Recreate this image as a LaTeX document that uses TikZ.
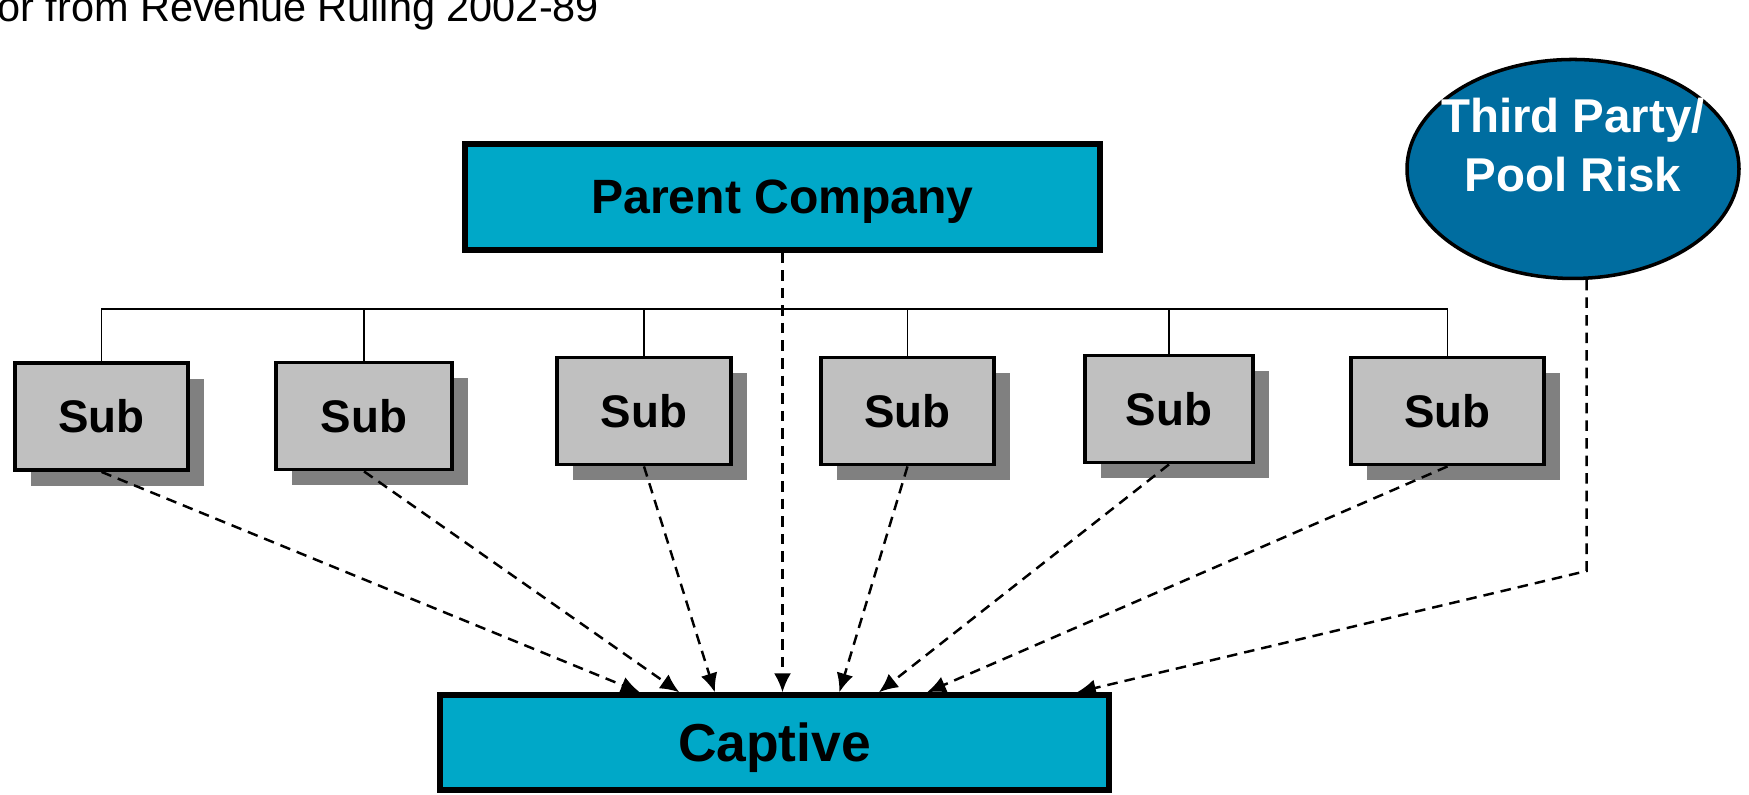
\documentclass[tikz,border=0pt]{standalone}
\usepackage{fontspec}
\setmainfont{Liberation Sans}
\usepackage{tikz}
\usetikzlibrary{shapes.geometric}
\usetikzlibrary{shadows}
\usetikzlibrary{arrows.meta}
\usepackage{color}
\definecolor{Teal-1}{RGB}{0,168,200}
\definecolor{Blue-1}{RGB}{0,109,160}
\definecolor{Grey-1}{RGB}{192,192,192}
\definecolor{Grey-2}{RGB}{128,128,128}

\begin{document}
\begin{tikzpicture}[
    corp/.style={draw=black, line width=1.5pt, fill=Teal-1, rounded corners=0pt, text=black, text depth=0pt},
    sub/.style={draw=black, line width=1.1pt, fill=Grey-1, minimum height=1.07cm, text=black,
      font=\fontsize{13}{15}\selectfont\bfseries,
      general shadow={fill=Grey-2, shadow xshift=0.16cm, shadow yshift=-0.16cm}},
    flow/.style={draw=black, line width=0.7pt, dash pattern=on 3pt off 2pt, -{Latex[length=0.19cm,width=0.17cm]}},
    tie/.style={draw=black, line width=0.45pt}]
  \useasboundingbox (0,0) rectangle (17.49,7.95);

  \node[anchor=base west, font=\fontsize{11.8}{14}\selectfont] (title) at (-0.15,7.73) {or from Revenue Ruling 2002-89};

  \node[corp, minimum height=1.06cm, minimum width=6.35cm, font=\fontsize{13.7}{16}\selectfont\bfseries] (parent)  at ( 7.825, 5.98) {Parent Company};
  \node[corp, minimum height=0.95cm, minimum width=6.69cm, font=\fontsize{15.2}{18}\selectfont\bfseries] (captive) at ( 7.745, 0.525) {Captive};

  \node[sub, minimum width=1.73cm] (sub1) at ( 1.015, 3.785) {Sub};
  \node[sub, minimum width=1.76cm] (sub2) at ( 3.640, 3.790) {Sub};
  \node[sub, minimum width=1.74cm] (sub3) at ( 6.440, 3.840) {Sub};
  \node[sub, minimum width=1.73cm] (sub4) at ( 9.075, 3.840) {Sub};
  \node[sub, minimum width=1.68cm] (sub5) at (11.690, 3.860) {Sub};
  \node[sub, minimum width=1.93cm] (sub6) at (14.475, 3.840) {Sub};

  \node[ellipse, draw=black, line width=1pt, fill=Blue-1, minimum width=3.32cm, minimum height=2.19cm] (pool) at (15.73, 6.26) {};
  \node[text=white, align=center, font=\fontsize{13.5}{17}\selectfont\bfseries] (poollabel) at ([yshift=0.24cm]pool.center) {Third Party/\\Pool Risk};

  % ownership lines
  \coordinate (bus) at (0, 4.86);
  \draw[tie] (sub1.north) |- (sub6.north |- bus) -- (sub6.north);
  \draw[tie] (sub2.north) -- (sub2.north |- bus);
  \draw[tie] (sub3.north) -- (sub3.north |- bus);
  \draw[tie] (sub4.north) -- (sub4.north |- bus);
  \draw[tie] (sub5.north) -- (sub5.north |- bus);

  % risk flows into the captive
  \draw[flow] (parent.south) -- (parent.south |- captive.north);
  \draw[flow] (sub1.south) -- ([xshift=2.025cm]captive.north west);
  \draw[flow] (sub2.south) -- ([xshift=2.420cm]captive.north west);
  \draw[flow] (sub3.south) -- ([xshift=2.775cm]captive.north west);
  \draw[flow] (sub4.south) -- ([xshift=4.020cm]captive.north west);
  \draw[flow] (sub5.south) -- ([xshift=4.415cm]captive.north west);
  \draw[flow] (sub6.south) -- ([xshift=4.895cm]captive.north west);
  \draw[flow] (pool.277) -- (pool.277 |- 0,2.24) -- ([xshift=6.395cm]captive.north west);
\end{tikzpicture}
\end{document}
